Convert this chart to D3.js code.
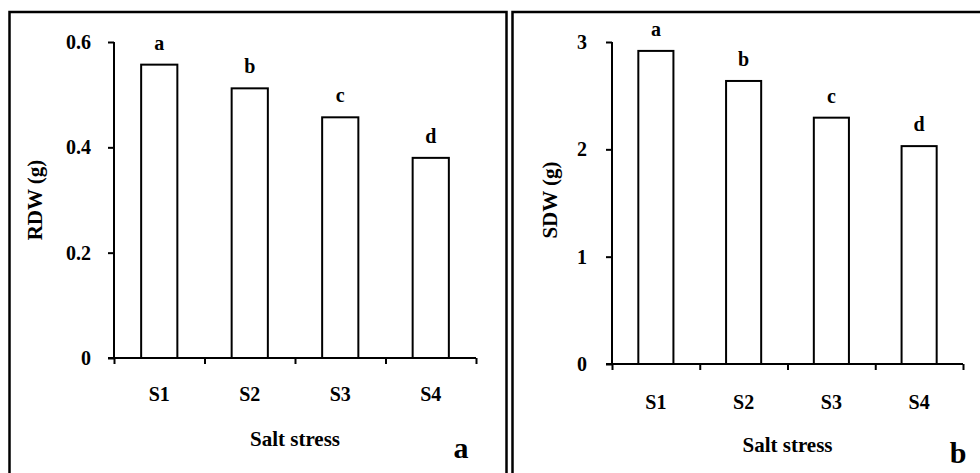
<html>
  <head>
     <meta charset="utf-8" />
     <script src="https://d3js.org/d3.v7.min.js"></script>
     <style>
        body { margin: 0; background: #fff; }
        text { font-family: "Liberation Serif", "Times New Roman", serif; font-weight: bold; fill: #000; }
     </style>
  </head>
  <body>
     <div id="chart"></div>
     <script>
         // donnees
         const categories = ["S1", "S2", "S3", "S4"];
         const rdwValues = [0.557, 0.512, 0.457, 0.380];
         const sdwValues = [2.917, 2.637, 2.295, 2.030];
         const letters = ["a", "b", "c", "d"];
         const rdwTicks = [0, 0.2, 0.4, 0.6];
         const sdwTicks = [0, 1, 2, 3];

         const svg = d3.select("#chart")
            .append("svg")
            .attr("width", 980)
            .attr("height", 473);

         function drawPanel(p) {
            // cadre du panneau
            svg.append("rect")
               .attr("x", p.box[0]).attr("y", p.box[1])
               .attr("width", p.box[2]).attr("height", p.box[3])
               .attr("fill", "none").attr("stroke", "black").attr("stroke-width", 2.5);

            let g = svg.append("g");

            let y = d3.scaleLinear().domain([0, p.max]).range([p.bottom, p.top]);
            let x = d3.scaleBand().domain(categories).range([p.left, p.right])
               .paddingInner(0.6).paddingOuter(0.3);
            let xEdge = d3.scaleLinear().domain([0, categories.length]).range([p.left, p.right]);

            // barres
            g.selectAll(".bar").data(p.values).enter()
               .append("rect")
               .attr("x", (d, i) => x(categories[i]))
               .attr("y", d => y(d))
               .attr("width", x.bandwidth())
               .attr("height", d => y(0) - y(d))
               .attr("fill", "white")
               .attr("stroke", "black")
               .attr("stroke-width", 2);

            // lettres de significativite
            g.selectAll(".lettre").data(p.values).enter()
               .append("text")
               .attr("x", (d, i) => x(categories[i]) + x.bandwidth() / 2)
               .attr("y", d => y(d) - 15)
               .attr("text-anchor", "middle")
               .style("font-size", "20px")
               .text((d, i) => letters[i]);

            // axe y
            let ay = g.append("g")
               .attr("transform", "translate(" + p.left + ",0)")
               .call(d3.axisLeft(y).tickValues(p.ticks).tickSize(6).tickPadding(p.tickPad)
                  .tickFormat(p.format));
            ay.attr("font-family", null).attr("font-size", null);
            ay.selectAll("path, line").attr("stroke", "black").attr("stroke-width", 2);
            ay.select(".domain").attr("d", "M0," + p.top + "V" + p.bottom);
            ay.selectAll("text").style("font-size", "20px").attr("fill", "black");

            // axe x : graduations entre categories
            let ax = g.append("g")
               .attr("transform", "translate(0," + p.bottom + ")")
               .call(d3.axisBottom(xEdge).ticks(categories.length).tickSize(6).tickFormat(""));
            ax.selectAll("path, line").attr("stroke", "black").attr("stroke-width", 2);
            ax.select(".domain").attr("d", "M" + (p.left - 6) + ",0H" + p.right);

            let axl = g.append("g")
               .attr("transform", "translate(0," + p.bottom + ")")
               .call(d3.axisBottom(x).tickSize(0).tickPadding(p.xPad));
            axl.attr("font-family", null).attr("font-size", null);
            axl.select(".domain").remove();
            axl.selectAll("text").style("font-size", "20px").attr("fill", "black");

            // titres
            g.append("text")
               .attr("x", (p.left + p.right) / 2)
               .attr("y", p.xTitleY)
               .attr("text-anchor", "middle")
               .style("font-size", "21px")
               .text("Salt stress");

            g.append("text")
               .attr("transform", "translate(" + p.yTitleX + "," + p.yTitleY + ") rotate(-90)")
               .attr("text-anchor", "middle")
               .style("font-size", "21px")
               .text(p.yTitle);

            g.append("text")
               .attr("x", p.tag[0]).attr("y", p.tag[1])
               .attr("text-anchor", "middle")
               .style("font-size", "30px")
               .text(p.tagText);
         }

         drawPanel({
            box: [9.5, 12, 497, 480],
            values: rdwValues, max: 0.6, ticks: rdwTicks,
            format: d => d === 0 ? "0" : d3.format(".1f")(d),
            left: 114, right: 476, top: 42, bottom: 358,
            tickPad: 17, xPad: 29,
            xTitleY: 446, yTitleX: 42, yTitleY: 200, yTitle: "RDW (g)",
            tag: [461, 458], tagText: "a"
         });

         drawPanel({
            box: [512.5, 12, 480, 480],
            values: sdwValues, max: 3, ticks: sdwTicks,
            format: d3.format("d"),
            left: 612, right: 963, top: 42, bottom: 364,
            tickPad: 19, xPad: 31,
            xTitleY: 452, yTitleX: 557, yTitleY: 200, yTitle: "SDW (g)",
            tag: [958, 463], tagText: "b"
         });
     </script>
  </body>
</html>
